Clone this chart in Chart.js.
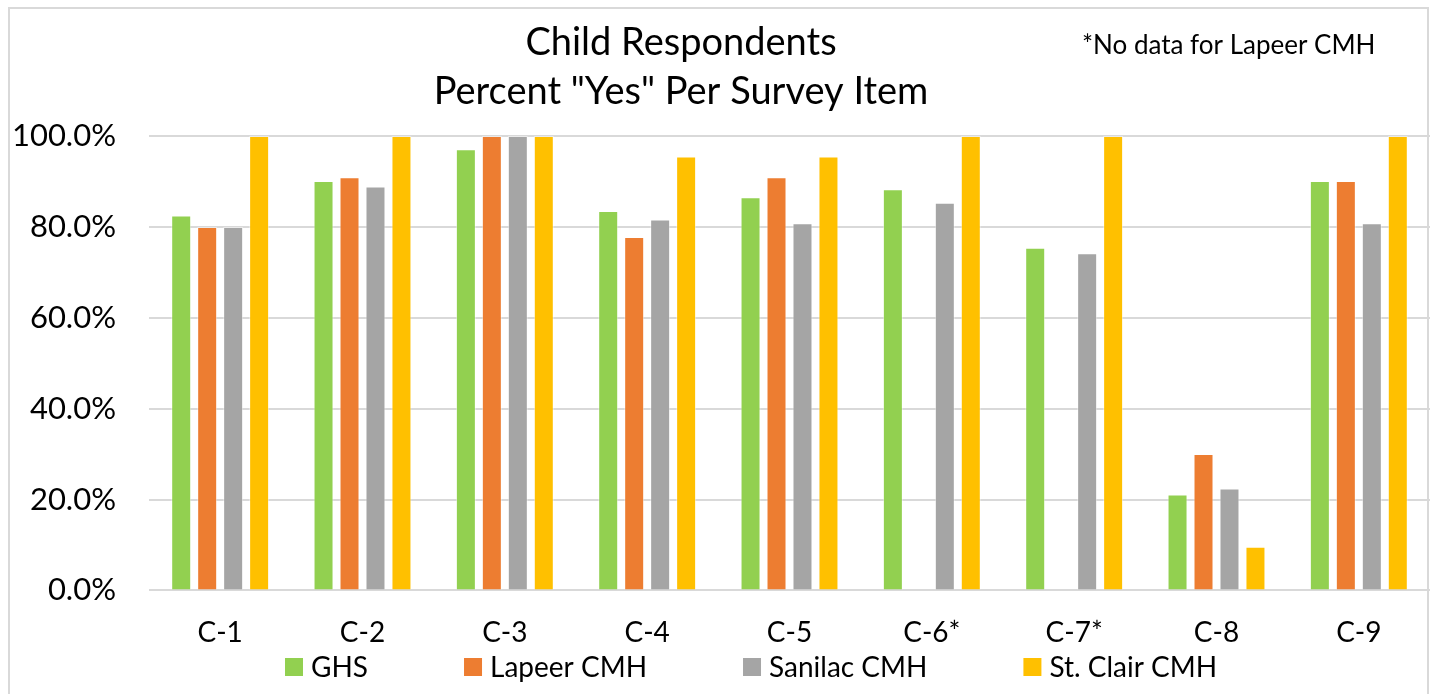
<!DOCTYPE html>
<html>
<head>
<meta charset="utf-8">
<script src="https://cdn.jsdelivr.net/npm/chart.js@4"></script>
<style>
  html, body { margin: 0; padding: 0; background: #ffffff; }
  #wrap { position: relative; width: 1437px; height: 694px; overflow: hidden; }
  #frame { position: absolute; left: 8px; top: 7px; width: 1421px; height: 700px;
           border: 2px solid #d9d9d9; box-sizing: border-box; pointer-events: none; }
  canvas { position: absolute; left: 0; top: 0; }
</style>
</head>
<body>
<div id="wrap">
  <canvas id="chart" width="1437" height="694"></canvas>
  <div id="frame"></div>
</div>
<script>
// Survey items along the x axis
const categories = ['C-1', 'C-2', 'C-3', 'C-4', 'C-5', 'C-6*', 'C-7*', 'C-8', 'C-9'];

// Percent answering "Yes" per item, by provider (null = no data)
const ghs        = [82.5, 90.1, 97.1, 83.5, 86.5, 88.3, 75.4, 21.1, 90.1];
const lapeerCMH  = [80.0, 90.9, 100.0, 77.8, 90.9, null, null, 30.0, 90.1];
const sanilacCMH = [80.0, 88.9, 100.0, 81.6, 80.8, 85.3, 74.2, 22.4, 80.8];
const stClairCMH = [100.0, 100.0, 100.0, 95.5, 95.5, 100.0, 100.0, 9.6, 100.0];

const seriesNames = ['GHS', 'Lapeer CMH', 'Sanilac CMH', 'St. Clair CMH'];
const seriesColors = ['#92D050', '#ED7D31', '#A5A5A5', '#FFC000'];

const yTicks = [0, 20, 40, 60, 80, 100];

const titleLines = ['Child Respondents', 'Percent "Yes" Per Survey Item'];
const noteText = '*No data for Lapeer CMH';

const FONT = 'Lato, "Open Sans", "Liberation Sans", sans-serif';

// Title, footnote and legend drawn on top of the chart
const decorations = {
  id: 'decorations',
  afterDraw(chart) {
    const ctx = chart.ctx;
    ctx.save();
    ctx.fillStyle = '#000000';
    ctx.textBaseline = 'middle';

    // Two-line title
    ctx.textAlign = 'center';
    ctx.font = '38px ' + FONT;
    ctx.fillText(titleLines[0], 681, 43);
    ctx.fillText(titleLines[1], 681, 92);

    // Footnote at top right
    ctx.textAlign = 'left';
    ctx.font = '26px ' + FONT;
    ctx.fillText(noteText, 1082, 46);

    // Legend row under the axis
    ctx.font = '28px ' + FONT;
    const box = 18, gapText = 8, gapItem = 96, y = 667;
    let x = 285;
    chart.data.datasets.forEach((ds) => {
      ctx.fillStyle = ds.backgroundColor;
      ctx.fillRect(x, y - box / 2, box, box);
      ctx.fillStyle = '#000000';
      ctx.fillText(ds.label, x + box + gapText, y + 1);
      x += box + gapText + ctx.measureText(ds.label).width + gapItem;
    });
    ctx.restore();
  }
};

const values = [ghs, lapeerCMH, sanilacCMH, stClairCMH];

new Chart(document.getElementById('chart'), {
  type: 'bar',
  data: {
    labels: categories,
    datasets: seriesNames.map((name, i) => ({
      label: name,
      data: values[i],
      backgroundColor: seriesColors[i],
      borderColor: 'rgba(255,255,255,0.45)',
      borderWidth: 1,
      categoryPercentage: 0.73,
      barPercentage: 0.77
    }))
  },
  options: {
    responsive: false,
    animation: false,
    layout: { padding: { top: 136, bottom: 18, left: 0, right: 7 } },
    plugins: {
      legend: { display: false },
      title: { display: false },
      tooltip: { enabled: false }
    },
    scales: {
      x: {
        grid: { display: false, drawTicks: false },
        border: { display: false },
        ticks: {
          color: '#000000',
          font: { family: FONT, size: 28 },
          padding: 26,
          maxRotation: 0
        }
      },
      y: {
        min: 0,
        max: 100,
        afterFit(scale) { scale.width = 149; },
        afterBuildTicks(scale) { scale.ticks = yTicks.map(v => ({ value: v })); },
        grid: { color: '#d9d9d9', lineWidth: 2, drawTicks: false },
        border: { display: false },
        ticks: {
          color: '#000000',
          font: { family: FONT, size: 31 },
          padding: 33,
          callback: (v) => v.toFixed(1) + '%'
        }
      }
    }
  },
  plugins: [decorations]
});
</script>
</body>
</html>
